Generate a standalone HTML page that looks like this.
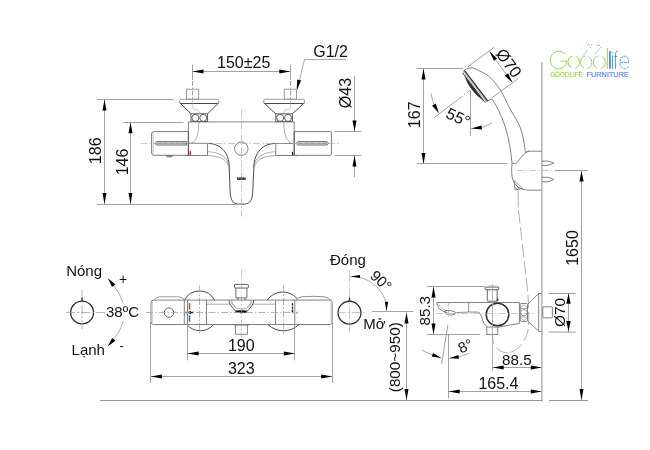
<!DOCTYPE html>
<html><head><meta charset="utf-8"><title>drawing</title>
<style>
html,body{margin:0;padding:0;background:#fff;}
body{width:650px;height:450px;overflow:hidden;}
svg{display:block;font-family:"Liberation Sans",sans-serif;}

</style></head><body>
<svg width="650" height="450" viewBox="0 0 650 450">
<rect width="650" height="450" fill="#fff"/>
<defs><filter id="gray" x="0" y="0" width="650" height="450" filterUnits="userSpaceOnUse" color-interpolation-filters="sRGB"><feColorMatrix type="saturate" values="0"/></filter><filter id="idf" x="540" y="60" width="110" height="30" filterUnits="userSpaceOnUse" color-interpolation-filters="sRGB"><feOffset dx="0" dy="0"/></filter></defs>
<line x1="192.5" y1="64.5" x2="192.5" y2="80" stroke="#a2a2a2" stroke-width="1"/>
<line x1="290.5" y1="64.5" x2="290.5" y2="80" stroke="#a2a2a2" stroke-width="1"/>
<line x1="192.5" y1="81" x2="192.5" y2="99" stroke="#a2a2a2" stroke-width="1" stroke-dasharray="5 1.5 1.5 1.5"/>
<line x1="290.5" y1="81" x2="290.5" y2="99" stroke="#a2a2a2" stroke-width="1" stroke-dasharray="5 1.5 1.5 1.5"/>
<line x1="192.5" y1="71.5" x2="290.3" y2="71.5" stroke="#a2a2a2" stroke-width="1"/>
<polygon points="192.50,71.50 203.50,69.50 203.50,73.50" fill="#000"/>
<polygon points="290.30,71.50 279.30,73.50 279.30,69.50" fill="#000"/>
<path d="M346 59.5 H304.5 L297.3 89" stroke="#a2a2a2" stroke-width="0.9" fill="none"/>
<polygon points="296.60,90.60 297.24,79.44 301.13,80.38" fill="#000"/>
<rect x="186.5" y="89.2" width="12.2" height="10" rx="0" stroke="#909090" stroke-width="0.9" fill="none"/>
<path d="M179.8 103 V100.3 Q179.8 99.3 180.8 99.3 H217.8 Q218.8 99.3 218.8 100.3 V103" stroke="#959595" stroke-width="0.9" fill="none"/>
<path d="M179.8 102.6 Q179.8 103.5 180.8 103.5 H217.8 Q218.8 103.5 218.8 102.6" stroke="#4c4c4c" stroke-width="1" fill="none"/>
<path d="M180.60000000000002 103.6 L191.0 113.8 M218.0 103.6 L207.60000000000002 113.8" stroke="#4c4c4c" stroke-width="1" fill="none"/>
<rect x="191.0" y="113.8" width="16.6" height="7.8" rx="0" stroke="#4c4c4c" stroke-width="0.9" fill="none"/>
<circle cx="195.35000000000002" cy="117.9" r="3.5" stroke="#4c4c4c" stroke-width="0.9" fill="none"/>
<circle cx="203.25" cy="117.9" r="3.5" stroke="#4c4c4c" stroke-width="0.9" fill="none"/>
<rect x="284.29999999999995" y="89.2" width="12.2" height="10" rx="0" stroke="#909090" stroke-width="0.9" fill="none"/>
<path d="M263.8 103 V100.3 Q263.8 99.3 264.8 99.3 H303.40000000000003 Q304.40000000000003 99.3 304.40000000000003 100.3 V103" stroke="#959595" stroke-width="0.9" fill="none"/>
<path d="M263.8 102.6 Q263.8 103.5 264.8 103.5 H303.40000000000003 Q304.40000000000003 103.5 304.40000000000003 102.6" stroke="#4c4c4c" stroke-width="1" fill="none"/>
<path d="M264.6 103.6 L275.8 113.8 M303.6 103.6 L292.40000000000003 113.8" stroke="#4c4c4c" stroke-width="1" fill="none"/>
<rect x="275.8" y="113.8" width="16.6" height="7.8" rx="0" stroke="#4c4c4c" stroke-width="0.9" fill="none"/>
<circle cx="280.15000000000003" cy="117.9" r="3.5" stroke="#4c4c4c" stroke-width="0.9" fill="none"/>
<circle cx="288.05" cy="117.9" r="3.5" stroke="#4c4c4c" stroke-width="0.9" fill="none"/>
<path d="M192.6 99 V107 Q192.6 109.5 196 109.5 Q199.3 109.5 199.3 113.8" stroke="#a2a2a2" stroke-width="0.6" fill="none"/>
<path d="M290.4 99 V107 Q290.4 109.5 287.2 109.5 Q284 109.5 284 113.8" stroke="#a2a2a2" stroke-width="0.6" fill="none"/>
<path d="M188.4 121.9 H294.2" stroke="#747474" stroke-width="0.9" fill="none"/>
<path d="M188.4 121.9 V155.3" stroke="#747474" stroke-width="0.9" fill="none"/>
<path d="M198.9 121.9 C198.6 133 197.5 141 191 143.3" stroke="#747474" stroke-width="0.6" fill="none"/>
<path d="M294.2 121.9 V131.5" stroke="#747474" stroke-width="0.9" fill="none"/>
<path d="M283.7 121.9 C284 133 285.5 141 292 143.3" stroke="#747474" stroke-width="0.6" fill="none"/>
<path d="M188.2 131.6 H154 Q151.6 131.6 151.6 134 V152.9 Q151.6 155.3 154 155.3 H188.2" stroke="#6c6c6c" stroke-width="0.9" fill="none"/>
<path d="M153.2 133 V154" stroke="#a2a2a2" stroke-width="0.6" fill="none"/>
<path d="M294.2 131.6 H330.4 Q331.4 131.6 331.4 132.6 V154.3 Q331.4 155.3 330.4 155.3 H294.2 Z" stroke="#6c6c6c" stroke-width="0.9" fill="none"/>
<path d="M154.8 143.3 L156.5 141.5 H186.6 V145.1 H156.5 Z" stroke="#505050" stroke-width="0.7" fill="#d0d0d0"/>
<path d="M157 143.3 H186" stroke="#8a8a8a" stroke-width="0.9" fill="none" stroke-dasharray="5 1"/>
<path d="M296 143.3 L297.8 141.5 H327 L328.7 143.3 L327 145.1 H297.8 Z" stroke="#505050" stroke-width="0.7" fill="#d0d0d0"/>
<path d="M298 143.3 H327" stroke="#8a8a8a" stroke-width="0.9" fill="none" stroke-dasharray="5 1"/>
<path d="M188.4 143.3 H207.5 V155.5 H185" stroke="#747474" stroke-width="0.9" fill="none"/>
<path d="M294.2 143.5 H275.8 V155.5 H294.2" stroke="#747474" stroke-width="0.9" fill="none"/>
<path d="M294.2 131.6 V155.3" stroke="#555" stroke-width="1.0" fill="none"/>
<path d="M188.4 131.6 V155.3" stroke="#555" stroke-width="1.0" fill="none"/>
<path d="M190.3 151.2 V155.2" stroke="#b03a3a" stroke-width="1.5" fill="none"/>
<line x1="292.5" y1="151.8" x2="292.5" y2="155" stroke="#111" stroke-width="1.2"/>
<path d="M165.4 155.9 h8 M167 156.8 h5" stroke="#555" stroke-width="0.8" fill="none"/>
<path d="M296.5 155.8 h2" stroke="#747474" stroke-width="0.6" fill="none"/>
<path d="M207.5 143.3 C217 143.5 224 148 227.5 156.7 C228.8 160 229.2 164 229.2 168 L230.1 192 C230.5 199.8 233 204.1 238.6 204.1 H244.4 C250 204.1 252.3 199.8 252.7 192 L253.8 168 C253.8 164 254.3 160 255.8 156.7 C259.3 148 266 143.5 275.8 143.5" stroke="#4c4c4c" stroke-width="1" fill="none"/>
<path d="M207.5 151.7 C216 152 223 154.5 227 160 Q229 163 229.8 167" stroke="#747474" stroke-width="0.6" fill="none"/>
<path d="M207.5 155.5 C216 156 222.5 157.5 226.5 162 Q229 165 230 170" stroke="#747474" stroke-width="0.6" fill="none"/>
<path d="M275.8 151.7 C267.3 152 260.3 154.5 256.3 160 Q254.3 163 253.5 167" stroke="#747474" stroke-width="0.6" fill="none"/>
<path d="M275.8 155.5 C267.3 156 260.8 157.5 256.8 162 Q254.3 165 253.3 170" stroke="#747474" stroke-width="0.6" fill="none"/>
<circle cx="241.3" cy="148.7" r="6.7" stroke="#747474" stroke-width="0.9" fill="none"/>
<rect x="237.2" y="177.7" width="8.4" height="2.2" fill="#222" opacity="0.75"/>
<line x1="241.5" y1="110" x2="241.5" y2="216.5" stroke="#a2a2a2" stroke-width="0.6" stroke-dasharray="7 2 1.5 2"/>
<line x1="140.5" y1="143.5" x2="340" y2="143.5" stroke="#a2a2a2" stroke-width="0.6" stroke-dasharray="7 2 1.5 2"/>
<line x1="97" y1="99.5" x2="173.5" y2="99.5" stroke="#a2a2a2" stroke-width="1"/>
<line x1="123.3" y1="122.5" x2="183.5" y2="122.5" stroke="#a2a2a2" stroke-width="1"/>
<line x1="97" y1="204.5" x2="240.8" y2="204.5" stroke="#a2a2a2" stroke-width="1"/>
<line x1="104.5" y1="99.4" x2="104.5" y2="204" stroke="#a2a2a2" stroke-width="1"/>
<line x1="130.5" y1="122.2" x2="130.5" y2="204" stroke="#a2a2a2" stroke-width="1"/>
<polygon points="104.50,99.40 106.50,110.40 102.50,110.40" fill="#000"/>
<polygon points="104.50,204.00 102.50,193.00 106.50,193.00" fill="#000"/>
<polygon points="130.50,122.20 132.50,133.20 128.50,133.20" fill="#000"/>
<polygon points="130.50,204.00 128.50,193.00 132.50,193.00" fill="#000"/>
<line x1="334.5" y1="131.5" x2="361" y2="131.5" stroke="#a2a2a2" stroke-width="1"/>
<line x1="334.5" y1="155.5" x2="361" y2="155.5" stroke="#a2a2a2" stroke-width="1"/>
<line x1="354.5" y1="75.7" x2="354.5" y2="131.6" stroke="#a2a2a2" stroke-width="1"/>
<line x1="354.5" y1="155.4" x2="354.5" y2="177.2" stroke="#a2a2a2" stroke-width="1"/>
<polygon points="354.50,131.60 352.50,120.60 356.50,120.60" fill="#000"/>
<polygon points="354.50,155.40 356.50,166.40 352.50,166.40" fill="#000"/>
<path d="M541.9 62 V400.5" stroke="#a8a8a8" stroke-width="1.3" fill="none"/>
<line x1="416.7" y1="68.5" x2="462.5" y2="68.5" stroke="#a2a2a2" stroke-width="1"/>
<line x1="416.7" y1="163.5" x2="507" y2="163.5" stroke="#a2a2a2" stroke-width="1"/>
<line x1="423.5" y1="68.6" x2="423.5" y2="163.5" stroke="#a2a2a2" stroke-width="1"/>
<polygon points="423.50,68.60 425.50,79.60 421.50,79.60" fill="#000"/>
<polygon points="423.50,164.00 421.50,153.00 425.50,153.00" fill="#000"/>
<path d="M464.3 70.3 C464.92 69.97 466.47 68.65 468 68.3 C469.53 67.95 471.50 67.73 473.5 68.2 C475.50 68.67 477.92 70.10 480 71.1 C482.08 72.10 484.15 73.00 486 74.2 C487.85 75.40 489.43 76.67 491.1 78.3 C492.77 79.93 494.42 81.95 496 84 C497.58 86.05 499.10 88.18 500.6 90.6 C502.10 93.02 503.62 95.82 505 98.5 C506.38 101.18 507.57 104.12 508.9 106.7 C510.23 109.28 511.70 111.78 513 114 C514.30 116.22 515.38 117.43 516.7 120 C518.02 122.57 519.82 126.40 520.9 129.4 C521.98 132.40 522.58 135.23 523.2 138 C523.82 140.77 524.25 143.57 524.6 146 C524.95 148.43 525.18 151.50 525.3 152.6" stroke="#747474" stroke-width="0.9" fill="none"/>
<path d="M487.7 101 L491.6 99 C496 104 501.5 116 504.9 125.9 C508.5 137 511 150 512 163.4" stroke="#747474" stroke-width="0.9" fill="none"/>
<path d="M464.3 70.3 L487.7 101 L485 102.3 L462.6 73 Z" stroke="#777" stroke-width="0.5" fill="#ececec"/>
<path d="M463.6 71.6 L486.4 101.6" stroke="#888" stroke-width="0.5" fill="none"/>
<path d="M464.3 70.3 L487.7 101" stroke="#3a3a3a" stroke-width="1.3" fill="none"/>
<path d="M462.65 73.07 L484.95 102.34" stroke="#4a4a4a" stroke-width="0.9" fill="none"/>
<path d="M465.03 76.54 C468.33 86.8 475.27 94.28 483.5 100.79 Z" stroke="#222" stroke-width="0.4" fill="#2c2c2c"/>
<line x1="468" y1="66.6" x2="494" y2="47.4" stroke="#a2a2a2" stroke-width="1"/>
<line x1="491.8" y1="97.8" x2="518" y2="78.8" stroke="#a2a2a2" stroke-width="1"/>
<line x1="489.6" y1="51.6" x2="512.4" y2="82.6" stroke="#a2a2a2" stroke-width="1"/>
<polygon points="489.60,51.60 497.14,58.47 493.91,60.84" fill="#000"/>
<polygon points="512.40,82.60 504.86,75.73 508.09,73.36" fill="#000"/>
<line x1="470.5" y1="91" x2="470.5" y2="136" stroke="#a2a2a2" stroke-width="1"/>
<line x1="470.4" y1="90" x2="458" y2="99.5" stroke="#a2a2a2" stroke-width="1" stroke-dasharray="5 2 1 2"/>
<line x1="458" y1="99.5" x2="434" y2="117.8" stroke="#a2a2a2" stroke-width="1"/>
<path d="M431 93.4 Q432 99 434 104.6" stroke="#a2a2a2" stroke-width="0.9" fill="none"/>
<polygon points="439.00,113.20 432.05,105.71 435.66,103.54" fill="#000"/>
<path d="M482 127.4 Q487.5 125.6 492 123" stroke="#a2a2a2" stroke-width="0.9" fill="none"/>
<polygon points="470.80,128.60 481.56,125.61 481.93,129.40" fill="#000"/>
<path d="M525.3 152.4 Q527 151.2 529.1 151.2 H541.6" stroke="#747474" stroke-width="0.9" fill="none"/>
<path d="M529.1 151.2 C524 152.5 520 158.8 516.4 163.3 H512" stroke="#747474" stroke-width="0.9" fill="none"/>
<path d="M512 163.4 C511.4 170 511.4 176 513 180 C515.5 187 521 189.6 528.2 190.2 H541.6" stroke="#747474" stroke-width="0.9" fill="none"/>
<path d="M514.2 180.6 L515 190 L522.6 188.6 Z M514.8 183.6 L519.8 189.2 M514.6 186.6 L517 189.6" stroke="#555" stroke-width="0.6" fill="none"/>
<path d="M541.9 161.1 H547.5 Q551 161.6 553.7 163.1 Q551 164.8 547 165.4 H541.9" stroke="#5a5a5a" stroke-width="0.8" fill="none"/>
<path d="M541.9 177.3 H547.5 Q551 177.9 553.7 179.6 Q551 181.2 547 181.8 H541.9" stroke="#5a5a5a" stroke-width="0.8" fill="none"/>
<line x1="516.7" y1="170.5" x2="553" y2="170.5" stroke="#a2a2a2" stroke-width="0.6" stroke-dasharray="7 2 1.5 2"/>
<line x1="555" y1="170.5" x2="587.7" y2="170.5" stroke="#a2a2a2" stroke-width="1"/>
<line x1="581.5" y1="170.5" x2="581.5" y2="400" stroke="#a2a2a2" stroke-width="1"/>
<polygon points="581.50,170.50 583.50,181.50 579.50,181.50" fill="#000"/>
<polygon points="581.50,400.00 579.50,389.00 583.50,389.00" fill="#000"/>
<path d="M518.2 190.4 V207.5" stroke="#a2a2a2" stroke-width="0.9" fill="none"/>
<path d="M518.5 210.5 L527.7 292 C528.5 299 529 318 528.6 326 C528.2 332 526.4 336.6 523.6 341 C519 349 512 352.8 507 352.8 C501 352.8 496.4 349 494 344.6 C492.8 342 492.6 338 492.6 334.4" stroke="#a2a2a2" stroke-width="0.85" fill="none" stroke-dasharray="13 4"/>
<circle cx="82.1" cy="312.5" r="11.45" stroke="#303030" stroke-width="1.35" fill="none"/>
<line x1="66.2" y1="312.5" x2="105.6" y2="312.5" stroke="#a2a2a2" stroke-width="0.8" stroke-dasharray="9 2 2 2"/>
<path d="M82.1 290 V329.4" stroke="#a2a2a2" stroke-width="0.8" fill="none" stroke-dasharray="9 2 2 2"/>
<path d="M81.5 301.2 L82.1 297.6 L82.7 301.2" stroke="#333" stroke-width="0.8" fill="none"/>
<path d="M112.2 283.6 Q120.4 293 123.2 303.5 M123.3 321.6 Q120.4 332 111.8 341.6" stroke="#a2a2a2" stroke-width="0.9" fill="none"/>
<polygon points="107.80,278.20 115.37,284.31 112.09,286.93" fill="#000"/>
<polygon points="107.60,346.60 112.25,338.05 115.42,340.81" fill="#000"/>
<path d="M184.4 300.3 A16.9 16.9 0 0 1 214.6 300.3" stroke="#4c4c4c" stroke-width="1" fill="none"/>
<path d="M186.6 324.4 A17.7 17.7 0 0 0 213.8 324.4" stroke="#4c4c4c" stroke-width="1" fill="none"/>
<path d="M267 300.3 A19.1 19.1 0 0 1 297 298.4" stroke="#4c4c4c" stroke-width="1" fill="none"/>
<path d="M267.8 324.4 A22.2 22.2 0 0 0 299 324.4" stroke="#4c4c4c" stroke-width="1" fill="none"/>
<line x1="199.5" y1="285.5" x2="199.5" y2="335.5" stroke="#a2a2a2" stroke-width="0.8" stroke-dasharray="7 2 1.5 2"/>
<line x1="283.5" y1="285.5" x2="283.5" y2="335.5" stroke="#a2a2a2" stroke-width="0.8" stroke-dasharray="7 2 1.5 2"/>
<path d="M184.3 300.1 H294.8 M184.3 324.5 H294.8" stroke="#747474" stroke-width="0.9" fill="none"/>
<path d="M206.5 304.2 H229.6 M253 304.2 H275.4" stroke="#747474" stroke-width="0.6" fill="none"/>
<line x1="187.5" y1="300.1" x2="187.5" y2="324.5" stroke="#747474" stroke-width="0.9"/>
<line x1="206.5" y1="300.1" x2="206.5" y2="324.5" stroke="#747474" stroke-width="0.9"/>
<line x1="275.5" y1="300.1" x2="275.5" y2="324.5" stroke="#747474" stroke-width="0.9"/>
<path d="M184.3 300.1 H153.5 Q151 300.1 151 302.6 V322 Q151 324.5 153.5 324.5 H184.3 Z" stroke="#747474" stroke-width="0.9" fill="none"/>
<path d="M154 300.1 Q156 297 160 296.8 H179 Q183 297 184.3 300.1" stroke="#747474" stroke-width="0.7" fill="none"/>
<path d="M152.4 302 V322.6" stroke="#a2a2a2" stroke-width="0.5" fill="none"/>
<path d="M294.8 300.1 H329.8 Q332.2 300.1 332.2 302.6 V322 Q332.2 324.5 329.8 324.5 H294.8 Z" stroke="#747474" stroke-width="0.9" fill="none"/>
<path d="M296.4 300.1 Q297.6 297.4 302 296.8 Q313 295.8 324 296.8 Q329 297.4 330.6 300.1" stroke="#747474" stroke-width="0.8" fill="none"/>
<path d="M330.8 302 V322.6" stroke="#a2a2a2" stroke-width="0.5" fill="none"/>
<circle cx="169" cy="312.6" r="4.7" stroke="#5a5a5a" stroke-width="0.9" fill="none"/>
<line x1="189.5" y1="303.2" x2="189.5" y2="309.6" stroke="#a85050" stroke-width="1.5"/>
<line x1="189.5" y1="315.3" x2="189.5" y2="321.6" stroke="#505aa0" stroke-width="1.5"/>
<path d="M185.4 312.5 h1.2 M188 312.5 h5.5" stroke="#111" stroke-width="1.3" fill="none"/>
<path d="M190.2 311.3 v2.4" stroke="#111" stroke-width="1.6" fill="none"/>
<line x1="292.5" y1="303.2" x2="292.5" y2="313.2" stroke="#111" stroke-width="1.3" stroke-dasharray="2.4 0.8"/>
<circle cx="297.2" cy="312.8" r="0.9" stroke="#747474" stroke-width="0.5" fill="none"/>
<path d="M234.5 285 Q234.5 284.4 235.20000000000002 284.4 H247.6 Q248.3 284.4 248.3 285 V287.4 Q248.3 288 247.6 288 H235.20000000000002 Q234.5 288 234.5 287.4 Z" stroke="#4c4c4c" stroke-width="0.9" fill="none"/>
<path d="M235.9 288 V297.9 H246.9 V288 M237.9 297.9 V300.1 M244.9 297.9 V300.1" stroke="#606060" stroke-width="0.9" fill="none"/>
<path d="M229.1 300.3 Q229.2 303.4 230.6 305.2 L234.2 309.8 Q234.9 310.7 236.4 310.7 H246.4 Q247.9 310.7 248.6 309.8 L252.2 305.2 Q253.6 303.4 253.7 300.3" stroke="#4c4c4c" stroke-width="0.9" fill="none"/>
<path d="M231.6 300.3 Q231.7 302.8 232.8 304.2 L235.8 308 Q236.4 308.8 237.6 308.8 H245.2 Q246.4 308.8 247 308 L250 304.2 Q251.1 302.8 251.2 300.3" stroke="#747474" stroke-width="0.6" fill="none"/>
<path d="M230.4 303.4 l2.2 -0.8 M231.6 305.4 l2.2 -1 M233 307.4 l2 -1.2 M252.4 303.4 l-2.2 -0.8 M251.2 305.4 l-2.2 -1 M249.8 307.4 l-2 -1.2" stroke="#747474" stroke-width="0.5" fill="none"/>
<ellipse cx="241.20000000000002" cy="311.9" rx="6.4" ry="1.3" fill="#111"/>
<path d="M233.1 323.9 L234.1 325.1 H248.70000000000002 L249.70000000000002 323.9 M235.4 325.1 V334.3 H247.4 V325.1" stroke="#747474" stroke-width="0.9" fill="none"/>
<line x1="241.5" y1="270" x2="241.5" y2="338" stroke="#a2a2a2" stroke-width="0.6" stroke-dasharray="7 2 1.5 2"/>
<line x1="146" y1="312.5" x2="297" y2="312.5" stroke="#a2a2a2" stroke-width="0.8" stroke-dasharray="7 2 1.5 2"/>
<line x1="187.5" y1="324.5" x2="187.5" y2="360.4" stroke="#a2a2a2" stroke-width="1"/>
<line x1="294.5" y1="324.5" x2="294.5" y2="360.4" stroke="#a2a2a2" stroke-width="1"/>
<line x1="187.6" y1="353.5" x2="294.8" y2="353.5" stroke="#a2a2a2" stroke-width="1"/>
<polygon points="187.60,353.50 198.60,351.50 198.60,355.50" fill="#000"/>
<polygon points="294.80,353.50 283.80,355.50 283.80,351.50" fill="#000"/>
<line x1="150.5" y1="322" x2="150.5" y2="383" stroke="#a2a2a2" stroke-width="1"/>
<line x1="332.5" y1="322" x2="332.5" y2="383" stroke="#a2a2a2" stroke-width="1"/>
<line x1="150.8" y1="376.5" x2="332.2" y2="376.5" stroke="#a2a2a2" stroke-width="1"/>
<polygon points="150.80,376.50 161.80,374.50 161.80,378.50" fill="#000"/>
<polygon points="332.20,376.50 321.20,378.50 321.20,374.50" fill="#000"/>
<line x1="100.2" y1="400.5" x2="542.8" y2="400.5" stroke="#8a8a8a" stroke-width="0.9"/>
<line x1="548.9" y1="400.5" x2="588.2" y2="400.5" stroke="#8a8a8a" stroke-width="0.9"/>
<circle cx="349.5" cy="312.7" r="11.45" stroke="#303030" stroke-width="1.35" fill="none"/>
<line x1="336.7" y1="312.5" x2="365.6" y2="312.5" stroke="#a2a2a2" stroke-width="0.6" stroke-dasharray="9 2 2 2"/>
<line x1="349.5" y1="270.6" x2="349.5" y2="331.7" stroke="#a2a2a2" stroke-width="0.6" stroke-dasharray="12 2 2 2"/>
<path d="M348.9 301.2 L349.5 297.6 L350.1 301.2" stroke="#333" stroke-width="0.8" fill="none"/>
<path d="M359.5 277.4 A36 36 0 0 1 385.9 302" stroke="#a2a2a2" stroke-width="0.9" fill="none"/>
<polygon points="350.00,276.50 360.00,274.90 360.00,278.10" fill="#000"/>
<polygon points="386.50,311.70 384.90,301.70 388.10,301.70" fill="#000"/>
<line x1="372.2" y1="311.5" x2="413.3" y2="311.5" stroke="#a2a2a2" stroke-width="1"/>
<line x1="406.5" y1="312.6" x2="406.5" y2="400" stroke="#a2a2a2" stroke-width="1"/>
<polygon points="406.50,312.60 408.50,323.60 404.50,323.60" fill="#000"/>
<polygon points="406.50,400.00 404.50,389.00 408.50,389.00" fill="#000"/>
<line x1="427" y1="286.5" x2="485" y2="286.5" stroke="#a2a2a2" stroke-width="1"/>
<line x1="427" y1="334.5" x2="480" y2="334.5" stroke="#a2a2a2" stroke-width="1"/>
<line x1="433.5" y1="286.4" x2="433.5" y2="334.5" stroke="#a2a2a2" stroke-width="1"/>
<polygon points="433.50,286.40 435.50,297.40 431.50,297.40" fill="#000"/>
<polygon points="433.50,334.50 431.50,323.50 435.50,323.50" fill="#000"/>
<path d="M436.7 302.5 H519.4 V323.4 L498 327.2" stroke="#747474" stroke-width="0.9" fill="none"/>
<path d="M436.7 302.5 C437.5 306.5 439.5 309.6 441.7 310.4 L447.5 312.8" stroke="#747474" stroke-width="0.9" fill="none"/>
<path d="M439 304.6 C440.2 307.4 441.8 309 444.3 309.9 L447 310.8" stroke="#747474" stroke-width="0.5" fill="none"/>
<path d="M444.4 311.6 Q446 310.2 449 310.6 L454.4 311.4 Q456 312.8 454.6 314.4 Q451 315.8 447.6 314.6 Q445 313.4 444.4 311.6 Z" stroke="#4c4c4c" stroke-width="0.7" fill="none"/>
<path d="M455.4 312.7 L468.7 312 V302.5" stroke="#747474" stroke-width="0.8" fill="none"/>
<path d="M468.7 312 L477.6 312.1 C481.6 312.6 482 319.5 484 323.5 L487 326.6" stroke="#747474" stroke-width="0.9" fill="none"/>
<circle cx="497.5" cy="314.5" r="11.3" stroke="#2c2c2c" stroke-width="1.5" fill="none"/>
<line x1="436" y1="313.5" x2="535" y2="313.5" stroke="#a2a2a2" stroke-width="0.6" stroke-dasharray="7 2 1.5 2"/>
<path d="M485.2 287.9 Q485.2 287.1 486 287.1 H498 Q498.8 287.1 498.8 287.9 V289 Q498.8 289.8 498 289.8 H486 Q485.2 289.8 485.2 289 Z" stroke="#4c4c4c" stroke-width="0.9" fill="none"/>
<path d="M487.3 289.8 V300.4 Q487.3 301.2 488.1 301.2 H496.3 Q497.1 301.2 497.1 300.4 V289.8" stroke="#555" stroke-width="0.9" fill="none"/>
<path d="M487.6 286.2 Q492 285.2 496.4 286.2" stroke="#a2a2a2" stroke-width="0.6" fill="none"/>
<rect x="496.8" y="298.6" width="1.6" height="2.6" rx="0" stroke="#747474" stroke-width="0" fill="#3a3a3a"/>
<rect x="486.8" y="327" width="11" height="7.5" rx="0" stroke="#747474" stroke-width="0.9" fill="none"/>
<rect x="520.2" y="303.5" width="7.3" height="17.8" rx="1" stroke="#747474" stroke-width="0.9" fill="none"/>
<circle cx="523.85" cy="312.6" r="3.3" stroke="#747474" stroke-width="0.7" fill="none"/>
<path d="M520.2 308.4 H527.5 M520.2 316.9 H527.5" stroke="#747474" stroke-width="0.6" fill="none"/>
<path d="M520.4 308.2 Q523.8 301.6 527.3 308.2 M520.4 317.1 Q523.8 323.6 527.3 317.1" stroke="#747474" stroke-width="0.5" fill="none"/>
<path d="M527.6 304.5 L538.7 293.5 V331 L527.6 321.2" stroke="#747474" stroke-width="0.9" fill="none"/>
<line x1="538.7" y1="293.5" x2="541.6" y2="293.5" stroke="#747474" stroke-width="0.9"/>
<line x1="538.7" y1="331.5" x2="541.6" y2="331.5" stroke="#747474" stroke-width="0.9"/>
<rect x="542.8" y="306.8" width="9.6" height="11" rx="1" stroke="#747474" stroke-width="0.9" fill="none"/>
<line x1="492.5" y1="284" x2="492.5" y2="370.8" stroke="#a2a2a2" stroke-width="0.8"/>
<line x1="548.7" y1="293.5" x2="576" y2="293.5" stroke="#a2a2a2" stroke-width="1"/>
<path d="M548.7 332.1 H576" stroke="#a2a2a2" stroke-width="1" fill="none"/>
<line x1="568.5" y1="293.2" x2="568.5" y2="332" stroke="#a2a2a2" stroke-width="1"/>
<polygon points="568.50,293.30 570.70,303.80 566.30,303.80" fill="#000"/>
<polygon points="568.50,331.60 566.30,321.10 570.70,321.10" fill="#000"/>
<line x1="448.5" y1="334.4" x2="448.5" y2="398.5" stroke="#a2a2a2" stroke-width="1"/>
<line x1="448.5" y1="302.4" x2="448.5" y2="318.4" stroke="#a2a2a2" stroke-width="0.6" stroke-dasharray="4 1.5 1 1.5"/>
<line x1="492.7" y1="367.5" x2="541.8" y2="367.5" stroke="#a2a2a2" stroke-width="1"/>
<polygon points="492.70,367.50 503.70,365.50 503.70,369.50" fill="#000"/>
<polygon points="541.80,367.50 530.80,369.50 530.80,365.50" fill="#000"/>
<line x1="448.7" y1="391.5" x2="541.8" y2="391.5" stroke="#a2a2a2" stroke-width="1"/>
<polygon points="448.70,391.50 459.70,389.50 459.70,393.50" fill="#000"/>
<polygon points="541.80,391.50 530.80,393.50 530.80,389.50" fill="#000"/>
<line x1="447.9" y1="324.7" x2="441.6" y2="364" stroke="#a2a2a2" stroke-width="1"/>
<path d="M422.1 350.2 Q427 353 432.6 355" stroke="#a2a2a2" stroke-width="0.9" fill="none"/>
<polygon points="441.80,358.20 431.75,356.60 433.03,353.03" fill="#000"/>
<path d="M469.4 353 Q464 355.6 458.8 356.8" stroke="#a2a2a2" stroke-width="0.9" fill="none"/>
<polygon points="448.80,358.20 458.44,354.93 458.97,358.70" fill="#000"/>

<g fill="none" stroke-width="0.7" opacity="0.95">
 <g stroke="#84c440" stroke-width="0.85">
  <path d="M565 54.2 A8.4 8.8 0 1 0 567.1 61 H560.4"/>
  <ellipse cx="573.7" cy="62.3" rx="5.7" ry="6.4" stroke-dasharray="15.55 3.5" stroke-dashoffset="7.8"/>
  <ellipse cx="586.2" cy="62.3" rx="5.7" ry="6.4" stroke-dasharray="15.55 3.5" stroke-dashoffset="7.8"/>
  <ellipse cx="599.4" cy="62.3" rx="6" ry="6.4" stroke-dasharray="15.9 3.6" stroke-dashoffset="7.95"/>
  <path d="M607.3 48 V68.8" stroke-width="0.9"/>
 </g>
 <g stroke="#2f86cf">
  <path d="M609.9 51.1 V68.8" stroke-width="1.7"/>
  <path d="M612.6 55.4 V68.8 M612.6 52 v1.4" stroke-width="0.9"/>
  <path d="M615.6 68.8 V53.4 Q615.6 51.2 617.4 51.2 M614.4 56.6 H617.4" stroke-width="0.9"/>
  <path d="M620.4 62.4 H628.6 Q628.6 56.2 624.4 56.2 Q620 56.2 620 62.4 Q620 68.6 624.6 68.6 Q627.4 68.6 628.6 66.4" stroke-dasharray="2.6 1" stroke-width="0.85"/>
 </g>
 <g stroke="#4aa0dc" stroke-width="0.7">
  <path d="M586.2 42 L591.8 49" stroke-dasharray="1.2 1"/>
  <path d="M583.2 55.4 L587.6 50.2" stroke-dasharray="1.6 0.8"/>
  <path d="M595.2 53.7 L601.7 46.3" stroke-dasharray="2.4 0.8"/>
  <path d="M596.5 45.3 H600"/>
  <path d="M589 44.6 L593.4 44.8" stroke-dasharray="1 1"/>
 </g>
</g>
<g filter="url(#idf)"><text x="550.2" y="77.3" font-size="6.7" fill="#86c23a" stroke="#8cc63f" stroke-width="0.12" textLength="32.5" lengthAdjust="spacingAndGlyphs" opacity="0.9">GOODLIFE</text>
<text x="586.6" y="77.3" font-size="6.7" fill="#4468dc" stroke="#4a6fe0" stroke-width="0.12" textLength="42.2" lengthAdjust="spacingAndGlyphs" opacity="0.9">FURNITURE</text></g>
<g filter="url(#gray)"><text x="243.7" y="68.2" font-size="16" text-anchor="middle" fill="#111">150±25</text>
<text x="330.6" y="57.2" font-size="16" text-anchor="middle" fill="#111">G1/2</text>
<text x="241.4" y="180" font-size="3" text-anchor="middle" fill="#111">EOMO</text>
<text x="100.6" y="150.8" font-size="16" text-anchor="middle" fill="#111" transform="rotate(-90 100.6 150.8)">186</text>
<text x="127.5" y="162" font-size="16" text-anchor="middle" fill="#111" transform="rotate(-90 127.5 162)">146</text>
<text x="350.8" y="93" font-size="16" text-anchor="middle" fill="#111" transform="rotate(-90 350.8 93)">Ø43</text>
<text x="419.7" y="114.8" font-size="16" text-anchor="middle" fill="#111" transform="rotate(-90 419.7 114.8)">167</text>
<text x="504.2" y="66.4" font-size="16.5" text-anchor="middle" fill="#111" transform="rotate(53.7 504.2 66.4)">Ø70</text>
<text x="455.8" y="122.4" font-size="16" text-anchor="middle" fill="#111" transform="rotate(25 455.8 122.4)">55°</text>
<text x="578.2" y="248" font-size="16" text-anchor="middle" fill="#111" transform="rotate(-90 578.2 248)">1650</text>
<text x="66.2" y="275.8" font-size="15" text-anchor="start" fill="#111">Nóng</text>
<text x="71.6" y="355.2" font-size="15" text-anchor="start" fill="#111">Lạnh</text>
<text x="106" y="317.4" font-size="15" text-anchor="start" fill="#111">38ºC</text>
<text x="123" y="284.4" font-size="14" text-anchor="middle" fill="#111">+</text>
<text x="121.6" y="350" font-size="13" text-anchor="middle" fill="#111">-</text>
<text x="241.3" y="350.8" font-size="16" text-anchor="middle" fill="#111">190</text>
<text x="241.3" y="373.6" font-size="16" text-anchor="middle" fill="#111">323</text>
<text x="330" y="264.6" font-size="15" text-anchor="start" fill="#111">Đóng</text>
<text x="363.2" y="329.4" font-size="15" text-anchor="start" fill="#111">Mở</text>
<text x="377.6" y="284.6" font-size="15" text-anchor="middle" fill="#111" transform="rotate(42 377.6 284.6)">90°</text>
<text x="399.6" y="357.2" font-size="15.25" text-anchor="middle" fill="#111" transform="rotate(-90 399.6 357.2)">(800~950)</text>
<text x="429.9" y="310.7" font-size="15.2" text-anchor="middle" fill="#111" transform="rotate(-90 429.9 310.7)">85.3</text>
<text x="565.4" y="312.4" font-size="15.4" text-anchor="middle" fill="#111" transform="rotate(-90 565.4 312.4)">Ø70</text>
<text x="516.8" y="365.2" font-size="15.2" text-anchor="middle" fill="#111">88.5</text>
<text x="498.4" y="388.7" font-size="16" text-anchor="middle" fill="#111">165.4</text>
<text x="467.6" y="350.8" font-size="15" text-anchor="middle" fill="#111" transform="rotate(-25 467.6 350.8)">8°</text></g>
</svg>
</body></html>
